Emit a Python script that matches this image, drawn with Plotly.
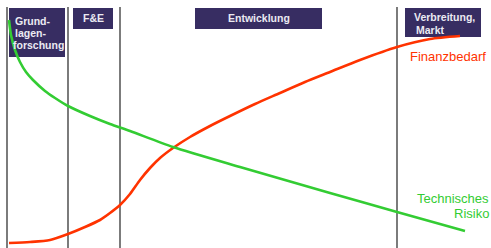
import plotly.graph_objects as go

# Phase boundaries (time axis units) and phase labels
phase_bounds = [7, 68, 120, 397]
phase_labels = [["Grund-", "lagen-", "forschung"], ["F&E"], ["Entwicklung"], ["Verbreitung,", "Markt"]]

# Finanzbedarf curve (time, level; level axis runs downward in chart units)
fin_t = [9, 30, 50, 68, 85, 100, 110, 120, 130, 140, 150, 160, 173, 190, 210, 230, 255, 280, 305, 330, 360, 397, 430, 460]
fin_v = [243, 242, 240, 234, 227, 220, 213, 205, 194, 180, 168, 158, 148, 137, 126, 116, 104, 93, 82, 72, 60, 47, 39, 36]

# Technisches Risiko curve
risk_t = [9, 11, 15, 20, 26, 33, 45, 55, 68, 90, 110, 130, 173, 240, 330, 397, 465]
risk_v = [20, 35, 50, 62, 72, 80, 91, 98, 106, 116, 124, 131, 147, 167, 193, 212, 231]

RED = "#ff3300"
GREEN = "#33cc33"
BOX = "#372d62"
BOXTXT = "#ebeaf2"
FONT = "Liberation Sans, Arial, sans-serif"

fig = go.Figure()
fig.add_trace(go.Scatter(x=fin_t, y=fin_v, mode="lines",
                         line=dict(color=RED, width=2.6, shape="spline", smoothing=0.7),
                         hoverinfo="skip"))
fig.add_trace(go.Scatter(x=risk_t, y=risk_v, mode="lines",
                         line=dict(color=GREEN, width=2.6, shape="spline", smoothing=0.7),
                         hoverinfo="skip"))

shapes = []
for b in phase_bounds:
    shapes.append(dict(type="line", xref="x", yref="y", x0=b, x1=b, y0=7, y1=248,
                       line=dict(color="#444444", width=1.4), layer="below"))

boxes = [(9, 65, 8, 57), (73, 113, 8, 29), (195, 322, 8, 29), (405, 481, 8, 37)]
for (x0, x1, y0, y1) in boxes:
    shapes.append(dict(type="rect", xref="x", yref="y", x0=x0, x1=x1, y0=y0, y1=y1,
                       fillcolor=BOX, line=dict(width=0), layer="below"))

annotations = []
# box text
text_pos = [
    [(13, 21, "left"), (13, 33, "left"), (11, 45, "left")],
    [(93, 18, "center")],
    [(258.5, 18, "center")],
    [(412, 17, "left"), (414, 30, "left")],
]
for labels, poss in zip(phase_labels, text_pos):
    for lab, (x, y, al) in zip(labels, poss):
        annotations.append(dict(x=x, y=y, xref="x", yref="y", text="<b>" + lab + "</b>",
                                showarrow=False, xanchor=al, yanchor="middle",
                                font=dict(family=FONT, size=10.5, color=BOXTXT)))

annotations.append(dict(x=408, y=56, xref="x", yref="y", text="Finanzbedarf", showarrow=False,
                        xanchor="left", yanchor="middle", font=dict(family=FONT, size=13, color=RED)))
annotations.append(dict(x=1.0, y=198, xref="paper", yref="y", text="Technisches", showarrow=False,
                        xanchor="right", yanchor="middle", font=dict(family=FONT, size=13, color=GREEN)))
annotations.append(dict(x=1.0, y=213, xref="paper", yref="y", text="Risiko", showarrow=False,
                        xanchor="right", yanchor="middle", font=dict(family=FONT, size=13, color=GREEN)))

fig.update_layout(
    width=491, height=248,
    margin=dict(l=0, r=0, t=0, b=0),
    paper_bgcolor="white", plot_bgcolor="white",
    showlegend=False,
    xaxis=dict(range=[0, 491], visible=False, fixedrange=True),
    yaxis=dict(range=[248, 0], visible=False, fixedrange=True),
    shapes=shapes, annotations=annotations,
)

fig.write_html("out.html", config={"displayModeBar": False},
               post_script="document.body.style.margin='0px';document.body.style.overflow='hidden';")
